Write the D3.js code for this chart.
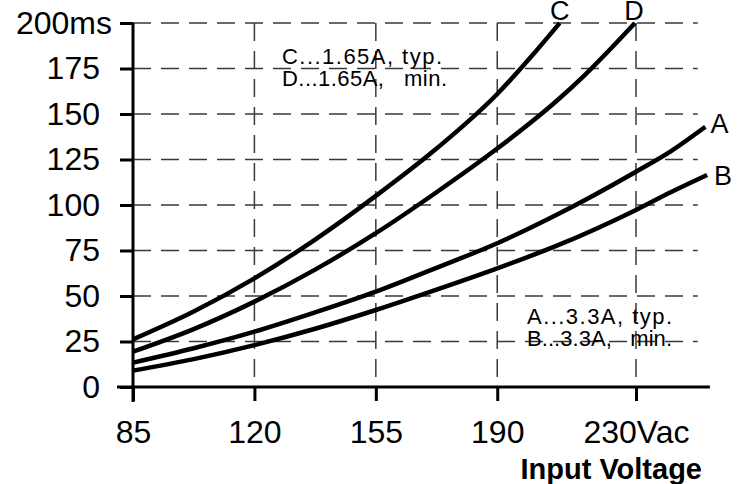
<!DOCTYPE html>
<html>
<head>
<meta charset="utf-8">
<script src="https://cdn.jsdelivr.net/npm/d3@7"></script>
<style>
    html, body { margin: 0; padding: 0; background: #fff; }
    svg { display: block; font-family: "Liberation Sans", Arial, sans-serif; }
</style>
</head>
<body>
<div id="chart"></div>
<script>
// hold-up time vs input voltage
const yTicks = [0, 25, 50, 75, 100, 125, 150, 175, 200];
const xTicks = [85, 120, 155, 190, 230];
const xTickLabels = ["85", "120", "155", "190", "230Vac"];

const curveA = [[85, 13.4], [102.5, 21.3], [120, 30.4], [137.5, 41], [155, 52.4], [172.5, 65.5],
    [190, 79], [207, 94.5], [230, 118.3], [240, 129.5], [250, 143]];
const curveB = [[85, 9], [102.5, 15.3], [120, 23], [137.5, 32], [155, 42.3], [172.5, 53.5],
    [190, 65.2], [207, 77.5], [230, 97.3], [240, 107], [250.5, 116.5]];
const curveC = [[85, 26.2], [102.5, 41.5], [120, 59.7], [137.5, 81], [155, 105], [172.5, 131],
    [190, 161], [200, 182], [208, 200]];
const curveD = [[85, 19.4], [102.5, 31.8], [120, 46.9], [137.5, 64.5], [155, 84.5], [172.5, 107],
    [190, 131], [207, 157], [215, 171], [229.7, 200]];

const seriesNames = ["A", "B", "C", "D"];
const seriesData = [curveA, curveB, curveC, curveD];
const noteCD = ["C...1.65A, typ.", "D...1.65A,   min."];
const noteAB = ["A...3.3A, typ.", "B...3.3A,   min."];

const width = 737;
const height = 484;

const svg = d3.select("#chart")
    .append("svg")
    .attr("width", width)
    .attr("height", height);

const x = d3.scaleLinear().domain([85, 230]).range([133, 636]);
const y = d3.scaleLinear().domain([0, 200]).range([387, 23]);
const xEnd = 251.3;
const gridEnd = 247.8;

// grid
const grid = svg.append("g")
    .attr("stroke", "#3a3a3a")
    .attr("stroke-width", 1.5)
    .attr("stroke-dasharray", "18,10");

grid.selectAll("line.h")
    .data(yTicks.filter(d => d > 0))
    .join("line")
    .attr("class", "h")
    .attr("x1", x(85))
    .attr("x2", x(gridEnd))
    .attr("y1", d => y(d))
    .attr("y2", d => y(d));

grid.selectAll("line.v")
    .data(xTicks.filter(d => d > 85))
    .join("line")
    .attr("class", "v")
    .attr("x1", d => x(d))
    .attr("x2", d => x(d))
    .attr("y1", y(200))
    .attr("y2", y(0));

// axes
const yAxis = svg.append("g")
    .attr("transform", `translate(${x(85)},0)`)
    .call(d3.axisLeft(y)
        .tickValues(yTicks)
        .tickSize(13)
        .tickPadding(20)
        .tickFormat(d => d === 200 ? "200ms" : d));

const xAxis = svg.append("g")
    .attr("transform", `translate(0,${y(0)})`)
    .call(d3.axisBottom(x)
        .tickValues(xTicks)
        .tickSize(14)
        .tickPadding(19)
        .tickFormat((d, i) => xTickLabels[i]));

[yAxis, xAxis].forEach(a => {
    a.select(".domain").remove();
    a.selectAll(".tick line").attr("stroke", "#000").attr("stroke-width", 3);
    a.selectAll(".tick text")
        .attr("fill", "#000")
        .attr("font-size", 32)
        .attr("font-family", "'Liberation Sans', Arial, sans-serif");
});

yAxis.selectAll(".tick text")
    .filter(d => d === 200)
    .attr("dx", 12);

svg.append("line")
    .attr("x1", x(85) - 16)
    .attr("x2", x(xEnd))
    .attr("y1", y(0))
    .attr("y2", y(0))
    .attr("stroke", "#000")
    .attr("stroke-width", 3);

svg.append("line")
    .attr("x1", x(85))
    .attr("x2", x(85))
    .attr("y1", y(200))
    .attr("y2", y(0) + 15)
    .attr("stroke", "#000")
    .attr("stroke-width", 3);

// curves
const line = d3.line()
    .x(d => x(d[0]))
    .y(d => y(d[1]))
    .curve(d3.curveMonotoneX);

svg.append("g")
    .selectAll("path")
    .data(seriesData)
    .join("path")
    .attr("d", line)
    .attr("fill", "none")
    .attr("stroke", "#000")
    .attr("stroke-width", 4.5)
    .attr("stroke-linecap", "butt");

// curve letters at the line ends
const labelOffset = { A: [5, 6, "start"], B: [7, 10, "start"], C: [0, -3, "middle"], D: [-1, -3, "middle"] };

svg.append("g")
    .selectAll("text")
    .data(seriesNames)
    .join("text")
    .attr("x", (d, i) => x(seriesData[i][seriesData[i].length - 1][0]) + labelOffset[d][0])
    .attr("y", (d, i) => y(seriesData[i][seriesData[i].length - 1][1]) + labelOffset[d][1])
    .attr("text-anchor", d => labelOffset[d][2])
    .attr("font-size", 27)
    .text(d => d);

// notes
const addNote = (lines, left, top, widths) => svg.append("g")
    .selectAll("text")
    .data(lines)
    .join("text")
    .attr("x", left)
    .attr("y", (d, i) => top + i * 21.5)
    .attr("font-size", 22)
    .attr("textLength", (d, i) => widths[i])
    .attr("lengthAdjust", "spacing")
    .style("white-space", "pre")
    .text(d => d);

addNote(noteCD, 282, 64.3, [160, 165]);
addNote(noteAB, 527, 324.3, [145, 145]);

svg.append("text")
    .attr("x", 702)
    .attr("y", 479)
    .attr("text-anchor", "end")
    .attr("font-size", 29)
    .attr("font-weight", "bold")
    .text("Input Voltage");
</script>
</body>
</html>
